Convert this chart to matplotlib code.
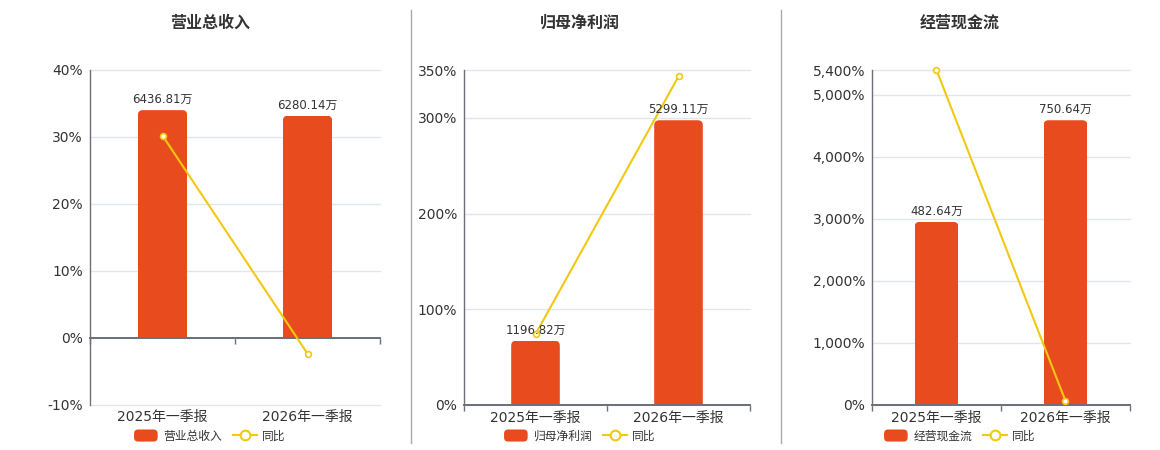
import matplotlib
matplotlib.use("Agg")
import matplotlib.pyplot as plt
from matplotlib.patches import FancyBboxPatch, BoxStyle
from matplotlib.lines import Line2D
from matplotlib.legend_handler import HandlerPatch
from matplotlib.ticker import FixedLocator, FixedFormatter

# ---------------- data ----------------
categories = ["2025年一季报", "2026年一季报"]

titles = ["营业总收入", "归母净利润", "经营现金流"]
bar_names = ["营业总收入", "归母净利润", "经营现金流"]
line_name = "同比"

revenue = [6436.81, 6280.14]          # 万
net_profit = [1196.82, 5299.11]       # 万
cash_flow = [482.64, 750.64]          # 万

revenue_yoy = [30.2, -2.4]            # %
net_profit_yoy = [73.9, 343.3]        # %
cash_flow_yoy = [5400.0, 65.0]        # %

revenue_ticks = [-10, 0, 10, 20, 30, 40]
net_profit_ticks = [0, 100, 200, 300, 350]
cash_flow_ticks = [0, 1000, 2000, 3000, 4000, 5000, 5400]

bar_values = [revenue, net_profit, cash_flow]
line_values = [revenue_yoy, net_profit_yoy, cash_flow_yoy]
tick_sets = [revenue_ticks, net_profit_ticks, cash_flow_ticks]

# ---------------- style ----------------
W, H = 1160, 450
DPI = 100
BAR_COLOR = "#E84C1E"
LINE_COLOR = "#F2C811"
GRID_COLOR = "#E0E6F1"
AXIS_COLOR = "#6E7079"
TEXT_COLOR = "#333333"
SEP_COLOR = "#AAAAAA"
FAM = ["DejaVu Sans", "Noto Sans CJK SC"]
CJK = ["Noto Sans CJK SC", "DejaVu Sans"]

plt.rcParams["font.family"] = FAM

fig = plt.figure(figsize=(W / DPI, H / DPI), dpi=DPI)

# axes rectangles in pixels: left, right, top, bottom
rects_px = [(90, 380, 70, 404.5), (464, 750, 70, 405), (872, 1130, 70, 405)]
centers_px = [210, 580, 960]


def px_rect(l, r, t, b):
    return [l / W, 1 - b / H, (r - l) / W, (b - t) / H]


def rounded_patch_func(legend, orig_handle, xdescent, ydescent, width, height, fontsize):
    return FancyBboxPatch((-xdescent, -ydescent), width, height,
                          boxstyle=BoxStyle.Round(pad=0, rounding_size=3))


line_axes = []
for i in range(3):
    l, r, t, b = rects_px[i]
    ax = fig.add_axes(px_rect(l, r, t, b))
    line_axes.append(ax)
    ticks = tick_sets[i]
    lo, hi = ticks[0], ticks[-1]
    ax.set_xlim(-0.5, 1.5)
    ax.set_ylim(lo, hi)

    # y axis (line scale)
    ax.yaxis.set_major_locator(FixedLocator(ticks))
    ax.yaxis.set_major_formatter(FixedFormatter([f"{v:,}%" for v in ticks]))
    ax.tick_params(axis="y", length=0, pad=5, labelsize=10, labelcolor=TEXT_COLOR)
    ax.yaxis.grid(True, color=GRID_COLOR, lw=1)
    ax.set_axisbelow(True)
    for s in ["top", "right"]:
        ax.spines[s].set_visible(False)
    ax.spines["left"].set_color(AXIS_COLOR)
    ax.spines["left"].set_linewidth(1.0)
    ax.spines["bottom"].set_position(("data", 0))
    ax.spines["bottom"].set_color(AXIS_COLOR)
    ax.spines["bottom"].set_linewidth(1.4)

    # x axis: boundary ticks on zero line, labels at bottom
    ax.set_xticks([0, 1])
    ax.set_xticks([-0.5, 0.5, 1.5], minor=True)
    ax.tick_params(axis="x", which="major", length=0, labelbottom=False)
    ax.tick_params(axis="x", which="minor", length=4, width=1, color=AXIS_COLOR, direction="out")
    sec = ax.secondary_xaxis("bottom")
    sec.set_xticks([0, 1])
    sec.set_xticklabels(categories, family=FAM)
    sec.tick_params(length=0, pad=4, labelsize=10, labelcolor=TEXT_COLOR)
    sec.spines["bottom"].set_visible(False)

    # bars on a hidden twin axis, zero aligned
    ax2 = ax.twinx()
    vals = bar_values[i]
    top = max(vals) / 0.85
    f = -lo / (hi - lo)
    bot = -f * top / (1 - f)
    ax2.set_ylim(bot, top)
    ax2.set_xlim(-0.5, 1.5)
    ax2.set_axis_off()

    w_px = r - l
    h_px = b - t
    xpp = 2.0 / w_px
    ypp = (top - bot) / h_px
    r_px = 5
    rx = r_px * xpp
    ry = r_px * ypp
    bars = ax2.bar(range(len(vals)), vals, width=0.34, color=BAR_COLOR)
    for rect, v in zip(bars.patches, vals):
        rect.set_visible(False)
        x0 = rect.get_x()
        fp = FancyBboxPatch((x0, -ry), rect.get_width(), v + ry,
                            boxstyle=BoxStyle.Round(pad=0, rounding_size=rx),
                            mutation_aspect=ypp / xpp,
                            facecolor=BAR_COLOR, edgecolor="none", zorder=2)
        ax2.add_patch(fp)
        fp.set_clip_path(rect)
        ax2.annotate(f"{v:.2f}万", (x0 + rect.get_width() / 2, v),
                     xytext=(0, 4), textcoords="offset pixels",
                     ha="center", va="bottom", fontsize=8.5, color=TEXT_COLOR,
                     family=FAM, zorder=5)

    # zero axis line over bars
    ax2.axhline(0, color=AXIS_COLOR, lw=1.4, zorder=3)

    # yoy line on top of bars, in the line axis scale
    ax2.plot(range(len(line_values[i])), line_values[i], color=LINE_COLOR, lw=1.5,
             marker="o", markersize=4.2, markerfacecolor="white",
             markeredgecolor=LINE_COLOR, markeredgewidth=1.2,
             transform=ax.transData, zorder=4, clip_on=False)

    # title
    fig.text(centers_px[i] / W, 1 - 23 / H, titles[i], ha="center", va="center",
             fontsize=11.5, fontweight="bold", color=TEXT_COLOR, family=CJK)

    # legend
    h_bar = FancyBboxPatch((0, 0), 1, 1, facecolor=BAR_COLOR, edgecolor="none")
    h_line = Line2D([], [], color=LINE_COLOR, lw=1.5, marker="o", markersize=7,
                    markerfacecolor="white", markeredgecolor=LINE_COLOR,
                    markeredgewidth=1.5)
    fig.legend([h_bar, h_line], [bar_names[i], line_name],
               loc="center", bbox_to_anchor=(centers_px[i] / W, 1 - 436 / H),
               ncol=2, frameon=False, handlelength=2.0,
               handleheight=1.2, handletextpad=0.5, columnspacing=0.9,
               borderpad=0, borderaxespad=0,
               prop={"family": CJK, "size": 8.5},
               labelcolor=TEXT_COLOR,
               handler_map={FancyBboxPatch: HandlerPatch(patch_func=rounded_patch_func)})

# separators
for xs in [410.5, 780.5]:
    fig.add_artist(Line2D([xs / W, xs / W], [1 - 10 / H, 1 - 443 / H],
                          transform=fig.transFigure, color=SEP_COLOR, lw=1.0))

# let the edge grid lines (at the axis limits) show fully
fig.canvas.draw()
for ax in line_axes:
    for gl in ax.yaxis.get_gridlines():
        gl.set_clip_on(False)

fig.savefig("out.png", dpi=DPI)
